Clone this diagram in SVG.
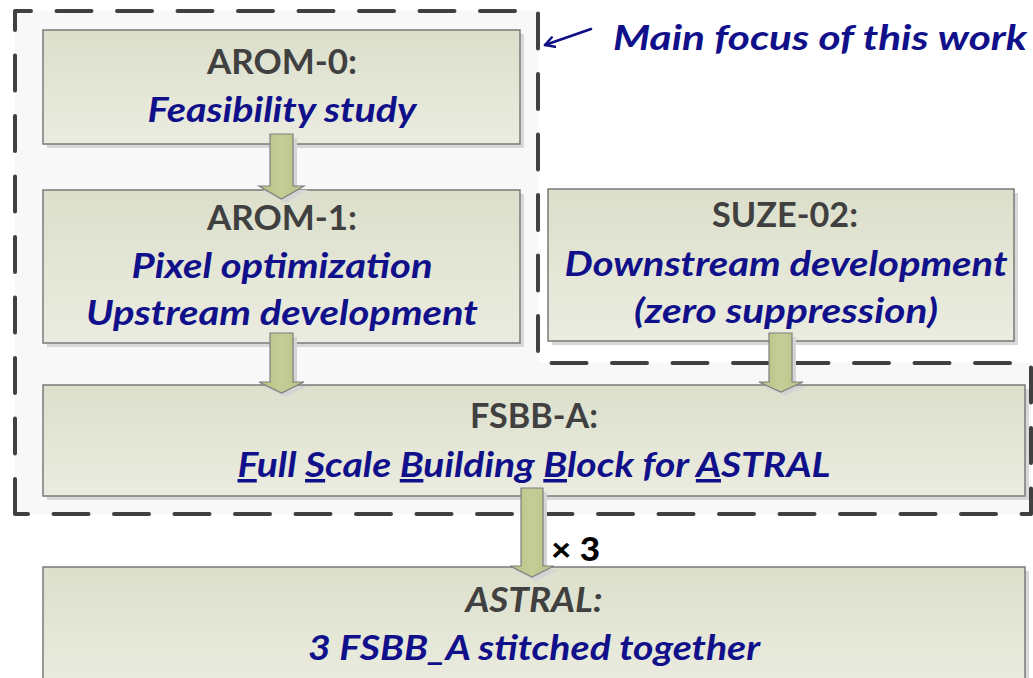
<svg xmlns="http://www.w3.org/2000/svg" width="1033" height="678" viewBox="0 0 1033 678">
  <defs>
    <linearGradient id="boxFill" x1="0" y1="0" x2="0" y2="1">
      <stop offset="0" stop-color="#dcdfcb"/>
      <stop offset="1" stop-color="#ebece0"/>
    </linearGradient>
    <linearGradient id="arrowFill" x1="0" y1="0" x2="1" y2="0">
      <stop offset="0" stop-color="#b6c284"/>
      <stop offset="0.5" stop-color="#c4cd96"/>
      <stop offset="1" stop-color="#b6c284"/>
    </linearGradient>
    <marker id="focusHead" viewBox="0 0 12 12" refX="10" refY="6" markerWidth="12" markerHeight="12" markerUnits="userSpaceOnUse" orient="auto">
      <path d="M1,1 L10,6 L1,11" fill="none" stroke="#0e0e86" stroke-width="2.4" stroke-linecap="round" stroke-linejoin="round"/>
    </marker>
  </defs>
  <style>
    .box { fill: url(#boxFill); stroke: #7a7a7a; stroke-width: 1.5; }
    .shadow { fill: #d8d8d8; }
    .arrow { fill: url(#arrowFill); stroke: #7f7f7f; stroke-width: 1.2; }
    .ashadow { fill: #d4d4d4; }
    .title { font-family: Lato, "Liberation Sans", sans-serif; font-weight: bold; font-size: 35px; fill: #404040; text-anchor: middle; }
    .body { font-family: Lato, "Liberation Sans", sans-serif; font-weight: bold; font-style: italic; font-size: 35px; fill: #10108a; text-anchor: middle; }
    .u { text-decoration: underline; }
  </style>

  <!-- focus region -->
  <path d="M15,514 V11 H538 V363 H1031 V514 Z" fill="#f8f8f8"/>
  <path d="M15,514 V11 H538 V363 H1031 V514 Z" fill="none" stroke="#404040" stroke-width="4" stroke-linecap="round" stroke-linejoin="round" stroke-dasharray="35 25.5"/>

  <g id="arom0">
    <rect class="shadow" x="47" y="34" width="477" height="114"/>
    <rect class="box" x="43" y="30" width="477" height="114"/>
    <text class="title" x="282" y="74" textLength="150" lengthAdjust="spacingAndGlyphs">AROM-0:</text>
    <text class="body" x="282" y="122" textLength="269" lengthAdjust="spacingAndGlyphs">Feasibility study</text>
  </g>

  <g id="arom1">
    <rect class="shadow" x="47" y="194" width="477" height="153"/>
    <rect class="box" x="43" y="190" width="477" height="153"/>
    <text class="title" x="282" y="230" textLength="150" lengthAdjust="spacingAndGlyphs">AROM-1:</text>
    <text class="body" x="282" y="278" textLength="301" lengthAdjust="spacingAndGlyphs">Pixel optimization</text>
    <text class="body" x="282" y="325" textLength="392" lengthAdjust="spacingAndGlyphs">Upstream development</text>
  </g>

  <g id="suze02">
    <rect class="shadow" x="552" y="193" width="466" height="152"/>
    <rect class="box" x="548" y="189" width="466" height="152"/>
    <text class="title" x="785" y="227" textLength="146" lengthAdjust="spacingAndGlyphs">SUZE-02:</text>
    <text class="body" x="786" y="276" textLength="443" lengthAdjust="spacingAndGlyphs">Downstream development</text>
    <text class="body" x="786" y="323" textLength="304" lengthAdjust="spacingAndGlyphs">(zero suppression)</text>
  </g>

  <g id="fsbb">
    <rect class="shadow" x="47" y="389" width="982" height="111"/>
    <rect class="box" x="43" y="385" width="982" height="111"/>
    <text class="title" x="534" y="428" textLength="128" lengthAdjust="spacingAndGlyphs">FSBB-A:</text>
    <text class="body" x="534" y="477" textLength="593" lengthAdjust="spacingAndGlyphs"><tspan class="u">F</tspan>ull <tspan class="u">S</tspan>cale <tspan class="u">B</tspan>uilding <tspan class="u">B</tspan>lock for <tspan class="u">A</tspan>STRAL</text>
  </g>

  <g id="astral">
    <rect class="shadow" x="47" y="571" width="982" height="120"/>
    <rect class="box" x="43" y="567" width="982" height="120"/>
    <text class="title" x="534" y="612" font-style="italic" textLength="137" lengthAdjust="spacingAndGlyphs">ASTRAL:</text>
    <text class="body" x="534" y="660" textLength="452" lengthAdjust="spacingAndGlyphs">3 FSBB_A stitched together</text>
  </g>

  <g id="connectors">
    <!-- AROM-0 to AROM-1 -->
    <polygon class="ashadow" points="274,138 297,138 297,190 308,190 285.5,203 263,190 274,190"/>
    <polygon class="arrow" points="270,134 293,134 293,186 304,186 281.5,199 259,186 270,186"/>
    <!-- AROM-1 to FSBB-A -->
    <polygon class="ashadow" points="274,337 297,337 297,386 308,386 285.5,397 263,386 274,386"/>
    <polygon class="arrow" points="270,333 293,333 293,382 304,382 281.5,393 259,382 270,382"/>
    <!-- SUZE-02 to FSBB-A -->
    <polygon class="ashadow" points="773,337 796,337 796,386 807,386 785,396 763,386 773,386"/>
    <polygon class="arrow" points="769,333 792,333 792,382 803,382 781,392 759,382 769,382"/>
    <!-- FSBB-A to ASTRAL -->
    <polygon class="ashadow" points="525,492 547,492 547,570 558,570 536,581 514,570 525,570"/>
    <polygon class="arrow" points="521,488 543,488 543,566 554,566 532,577 510,566 521,566"/>
    <text x="551" y="561" font-family="Lato, 'Liberation Sans', sans-serif" font-weight="900" font-size="33" fill="#000000" textLength="49" lengthAdjust="spacingAndGlyphs">× 3</text>
    <!-- pointer to focus region -->
    <line x1="591" y1="29" x2="545" y2="45" stroke="#0e0e86" stroke-width="2.6" stroke-linecap="round" marker-end="url(#focusHead)"/>
  </g>

  <text class="body" x="1027" y="50" style="text-anchor: end" textLength="414" lengthAdjust="spacingAndGlyphs">Main focus of this work</text>
</svg>
